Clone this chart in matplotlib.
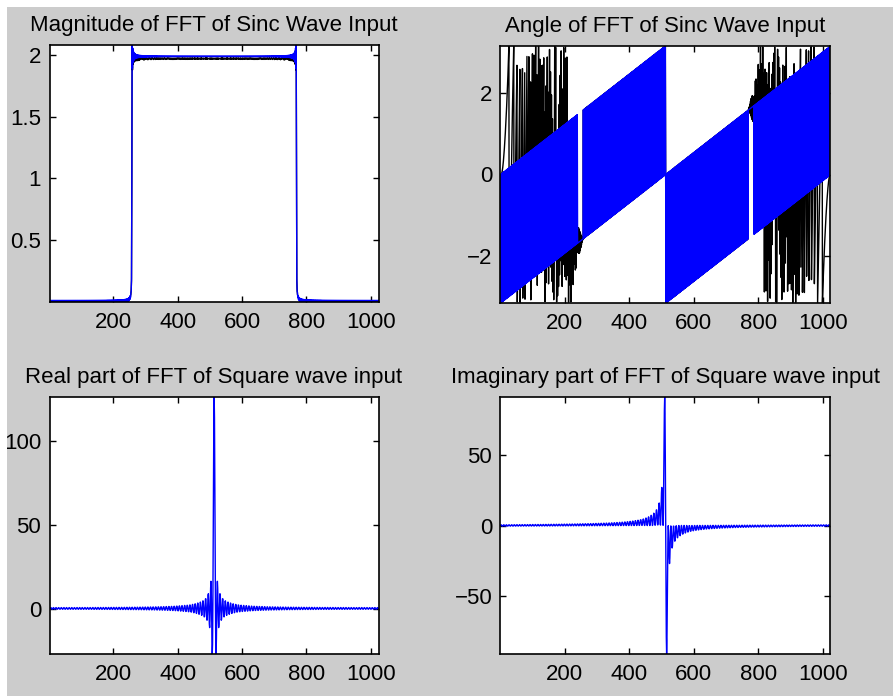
import matplotlib.pyplot as plt
import numpy as np
from matplotlib.patches import Rectangle

# signal parameters
N = 1024               # FFT length, x axis runs 1..1024
sinc_rate = 0.5        # sinc(n/2): passband is N/2 bins wide, height 2
sinc_delay = 511       # centre of the sinc pulse (gives the phase slope)
sinc_peak = 0.988      # centre sample of the blue sinc -> plateau ~1.99
record_gain = 0.985    # second (black) record sits a little lower
sweep_level = 0.00022  # faint swept interference on the second record
pulse_width = 126      # square pulse length -> DC value of the real part
pulse_height = 1.0
mag_top = 2.08         # top of the magnitude axis in the picture

x_ticks = [200, 400, 600, 800, 1000]
mag_ticks = [0.5, 1, 1.5, 2]
mag_labels = ['0.5', '1', '1.5', '2']
ang_ticks = [-2, 0, 2]
ang_labels = ['\u22122', '0', '2']
re_ticks = [0, 50, 100]
re_labels = ['0', '50', '100']
im_ticks = [-50, 0, 50]
im_labels = ['\u221250', '0', '50']

titles = ['Magnitude of FFT of Sinc Wave Input',
          'Angle of FFT of Sinc Wave Input',
          'Real part of FFT of Square wave input',
          'Imaginary part of FFT of Square wave input']

# input signals
n = np.arange(N)
bins = np.arange(1, N + 1)
sinc_wave = np.sinc(sinc_rate * (n - sinc_delay))
sinc_wave[sinc_delay] = sinc_peak
sweep = np.cos(np.pi * n ** 2 / (2 * N))
sinc_record = record_gain * np.sinc(sinc_rate * (n - sinc_delay)) + sweep_level * sweep
square_wave = np.where(n < pulse_width, pulse_height, 0.0)

# spectra, zero frequency moved to the middle
X_sinc = np.fft.fftshift(np.fft.fft(sinc_wave))
X_record = np.fft.fftshift(np.fft.fft(sinc_record))
X_square = np.fft.fftshift(np.fft.fft(square_wave))

plt.rcParams['font.family'] = ['Liberation Sans', 'DejaVu Sans']
plt.rcParams['font.size'] = 16

fig = plt.figure(figsize=(8.93, 6.96), dpi=100, facecolor='#cccccc')
W, H = 893.0, 696.0
boxes = [(49.5, 45, 329, 257), (500.5, 46, 330, 257),
         (49.5, 397, 329, 257), (500.5, 397, 330, 257)]
axes = [fig.add_axes([l / W, 1 - (t + h) / H, w / W, h / H]) for l, t, w, h in boxes]

ax = axes[0]
ax.plot(bins, np.abs(X_record), color='black', lw=1)
ax.plot(bins, np.abs(X_sinc), color='blue', lw=1)

ax = axes[1]
ax.plot(bins, np.angle(X_record), color='black', lw=1)
ax.plot(bins, np.angle(X_sinc), color='blue', lw=1)

ax = axes[2]
ax.plot(bins, X_square.real, color='blue', lw=1)

ax = axes[3]
ax.plot(bins, X_square.imag, color='blue', lw=1)

tick_sets = [(mag_ticks, mag_labels), (ang_ticks, ang_labels),
             (re_ticks, re_labels), (im_ticks, im_labels)]
for ax, title, (yt, yl) in zip(axes, titles, tick_sets):
    ax.set_facecolor('white')
    ax.margins(x=0, y=0)
    ax.set_xlim(1, N)
    ax.set_xticks(x_ticks)
    ax.set_yticks(yt, yl)
    ax.set_title(title, pad=10, fontsize=16)
    ax.tick_params(direction='in', length=4, width=1, top=True, right=True,
                   color='black', labelcolor='black')
    ax.tick_params(axis='x', pad=7)
    ax.tick_params(axis='y', pad=6)
    for s in ax.spines.values():
        s.set_linewidth(1.2)
        s.set_color('black')

axes[0].set_ylim(top=mag_top)

# white strip along the top and left edge of the screenshot
fig.add_artist(Rectangle((0, 0), 7 / W, 1, transform=fig.transFigure,
                         facecolor='white', edgecolor='none', zorder=10))
fig.add_artist(Rectangle((0, 1 - 7 / H), 1, 7 / H, transform=fig.transFigure,
                         facecolor='white', edgecolor='none', zorder=10))

fig.savefig('out.png', dpi=100, facecolor=fig.get_facecolor())
